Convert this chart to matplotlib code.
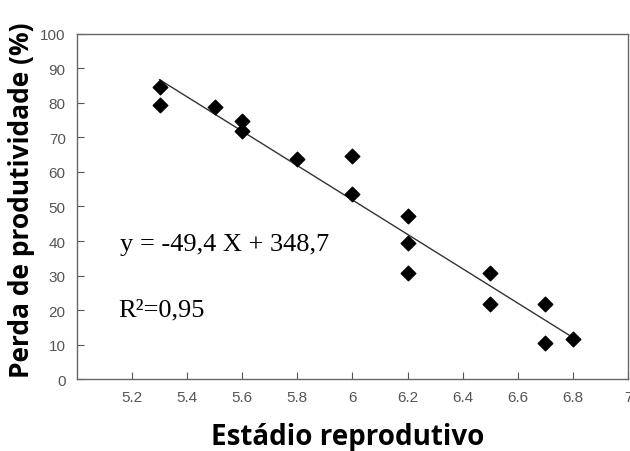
import numpy as np
import matplotlib
matplotlib.use("Agg")
import matplotlib.pyplot as plt
from matplotlib import font_manager as fm

# Data
stage = [5.3, 5.3, 5.5, 5.6, 5.6, 5.8, 6.0, 6.0, 6.2, 6.2, 6.2, 6.5, 6.5, 6.7, 6.7, 6.8]
loss = [84.5, 79.5, 78.8, 74.8, 71.8, 63.8, 64.5, 53.5, 47.3, 39.5, 30.8, 30.8, 21.7, 21.8, 10.5, 11.5]
xticks = [5.2, 5.4, 5.6, 5.8, 6.0, 6.2, 6.4, 6.6, 6.8, 7.0]
xtick_labels = ["5.2", "5.4", "5.6", "5.8", "6", "6.2", "6.4", "6.6", "6.8", "7"]
yticks = list(range(0, 101, 10))
eq_text = "y = -49,4 X + 348,7"
r2_text = "R²=0,95"

names = {f.name for f in fm.fontManager.ttflist}
tick_font = "Liberation Sans Narrow" if "Liberation Sans Narrow" in names else "Liberation Sans"

fig = plt.figure(figsize=(6.3, 4.52), dpi=100)
ax = fig.add_axes([0.122, 0.159, 0.875, 0.764])

ax.scatter(stage, loss, marker="D", s=55, color="black", zorder=3)
coef = np.polyfit(stage, loss, 1)
xs = np.array([min(stage), max(stage)])
ax.plot(xs, np.polyval(coef, xs), color="#333333", lw=1.0, zorder=2)

ax.set_xlim(5.0, 7.0)
ax.set_ylim(0, 100)
ax.set_xticks(xticks)
ax.set_xticklabels(xtick_labels)
ax.set_yticks(yticks)
ax.tick_params(direction="in", length=5, color="#555555", labelcolor="#555555",
               labelsize=11, pad=8)
for lab in ax.get_xticklabels() + ax.get_yticklabels():
    lab.set_family(tick_font)
for s in ax.spines.values():
    s.set_color("#666666")
    s.set_linewidth(1.0)

ax.set_xlabel("Estádio reprodutivo", fontsize=20, fontweight="bold",
              family="Open Sans")
ax.xaxis.label.set_va("center")
ax.xaxis.set_label_coords(0.491, -0.165)
ax.set_ylabel("Perda de produtividade (%)", fontsize=19, fontweight="bold",
              family="Open Sans")
ax.yaxis.label.set_va("center")
ax.yaxis.set_label_coords(-0.1, 0.52)

ax.text(5.155, 39.1, eq_text, fontsize=19, family="Liberation Serif", va="center")
ax.text(5.15, 20.3, r2_text, fontsize=19, family="Liberation Serif", va="center")

fig.savefig("out.png", dpi=100)
